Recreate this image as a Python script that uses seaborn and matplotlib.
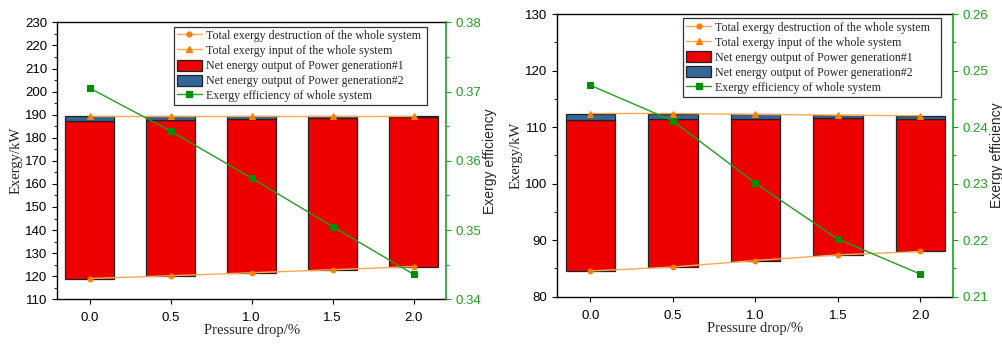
import matplotlib
matplotlib.use("Agg")
import matplotlib.pyplot as plt
import numpy as np
import pandas as pd
import seaborn as sns
from matplotlib.lines import Line2D
from matplotlib.patches import Patch
from matplotlib.ticker import MultipleLocator

# pressure drop (%)
pressure_drop = [0.0, 0.5, 1.0, 1.5, 2.0]

# left case
left_destruction = [119.0, 120.2, 121.5, 122.8, 124.2]
left_pg1_top = [187.3, 187.7, 188.3, 188.6, 189.0]
left_input = [189.3, 189.3, 189.3, 189.3, 189.3]
left_efficiency = [0.3705, 0.3643, 0.3575, 0.3505, 0.3436]

# right case
right_destruction = [84.55, 85.25, 86.4, 87.4, 88.0]
right_pg1_top = [111.2, 111.4, 111.5, 111.6, 111.5]
right_input = [112.4, 112.4, 112.25, 112.1, 112.0]
right_efficiency = [0.2474, 0.2411, 0.2301, 0.2202, 0.2140]

labels = [
    "Total exergy destruction of the whole system",
    "Total exergy input of the whole system",
    "Net energy output of Power generation#1",
    "Net energy output of Power generation#2",
    "Exergy efficiency of whole system",
]

RED = "#ee0000"
BLUE = "#336699"
ORANGE = "#ff8000"
ORANGE_LINE = "#ffa850"
GREEN = "#008f00"
GREEN_LINE = "#1f9f1f"

SERIF = "Liberation Serif"
SANS = "Liberation Sans"

sns.set_style("ticks")
plt.rcParams["font.family"] = [SANS, "DejaVu Sans"]
plt.rcParams["xtick.direction"] = "out"
plt.rcParams["ytick.direction"] = "out"


def draw_panel(fig, rect, destruction, pg1_top, total_input, efficiency,
               ylim, ymajor, eff_lim, eff_major, legend_rect):
    ax = fig.add_axes(rect)
    df = pd.DataFrame({
        "drop": pressure_drop,
        "destruction": destruction,
        "pg1": np.array(pg1_top) - np.array(destruction),
        "pg2": np.array(total_input) - np.array(pg1_top),
        "pg1_top": pg1_top,
        "input": total_input,
        "eff": efficiency,
    })

    sns.barplot(data=df, x="drop", y="pg1", native_scale=True, width=0.6,
                bottom=df["destruction"], color=RED, saturation=1,
                edgecolor="#222222", linewidth=0.9, errorbar=None, ax=ax)
    sns.barplot(data=df, x="drop", y="pg2", native_scale=True, width=0.6,
                bottom=df["pg1_top"], color=BLUE, saturation=1,
                edgecolor="#222222", linewidth=0.9, errorbar=None, ax=ax)

    sns.lineplot(data=df, x="drop", y="destruction", color=ORANGE_LINE,
                 lw=1.0, marker="o", ms=3.5, mfc=ORANGE, mec=ORANGE,
                 ax=ax)
    sns.lineplot(data=df, x="drop", y="input", color=ORANGE_LINE,
                 lw=1.0, marker="^", ms=4, mfc=ORANGE, mec=ORANGE, ax=ax)

    ax.set_xlim(-0.2, 2.2)
    ax.set_ylim(*ylim)
    ax.set_xticks(pressure_drop)
    ax.set_xticklabels([f"{v:.1f}" for v in pressure_drop])
    ax.yaxis.set_major_locator(MultipleLocator(ymajor))
    ax.yaxis.set_minor_locator(MultipleLocator(ymajor / 2))
    ax.tick_params(axis="both", labelsize=9.5, length=3.5, width=0.8,
                   colors="black")
    ax.tick_params(axis="x", pad=6)
    ax.tick_params(axis="y", which="minor", length=2, width=0.8)
    ax.set_xlabel("Pressure drop/%", family=SERIF, fontsize=10.5,
                  labelpad=0)
    ax.set_ylabel("Exergy/kW", family=SERIF, fontsize=10.5, labelpad=2)
    for sp in ax.spines.values():
        sp.set_linewidth(1.0)
        sp.set_color("black")
    ax.spines["right"].set_visible(False)

    ax2 = ax.twinx()
    sns.lineplot(data=df, x="drop", y="eff", color=GREEN_LINE, lw=1.0,
                 marker="s", ms=5, mfc=GREEN, mec=GREEN, ax=ax2)
    ax2.set_ylim(*eff_lim)
    ax2.yaxis.set_major_locator(MultipleLocator(eff_major))
    ax2.yaxis.set_minor_locator(MultipleLocator(eff_major / 2))
    ax2.tick_params(axis="y", labelsize=9.5, length=3.5, width=0.8,
                    colors=GREEN_LINE, labelcolor=GREEN_LINE)
    ax2.tick_params(axis="y", which="minor", length=2, width=0.8,
                    colors=GREEN_LINE)
    ax2.set_ylabel("Exergy efficiency", fontsize=10, labelpad=1)
    ax2.spines["right"].set_color(GREEN_LINE)
    ax2.spines["right"].set_linewidth(1.2)
    for side in ("left", "top", "bottom"):
        ax2.spines[side].set_visible(False)

    handles = [
        Line2D([], [], color=ORANGE_LINE, lw=1.0, marker="o", ms=3.5,
               mfc=ORANGE, mec=ORANGE),
        Line2D([], [], color=ORANGE_LINE, lw=1.0, marker="^", ms=4,
               mfc=ORANGE, mec=ORANGE),
        Patch(facecolor=RED, edgecolor="#222222", linewidth=0.9),
        Patch(facecolor=BLUE, edgecolor="#222222", linewidth=0.9),
        Line2D([], [], color=GREEN_LINE, lw=1.0, marker="s", ms=5,
               mfc=GREEN, mec=GREEN),
    ]
    leg = ax2.legend(handles, labels, loc="upper left",
                     bbox_to_anchor=legend_rect, mode="expand",
                     prop={"family": SERIF, "size": 8.6},
                     frameon=True, fancybox=False, framealpha=1,
                     edgecolor="#333333", borderpad=0.25, labelspacing=0.2,
                     handlelength=2.1, handleheight=1.05, handletextpad=0.35,
                     borderaxespad=0)
    leg.get_frame().set_linewidth(0.9)
    return ax, ax2


fig = plt.figure(figsize=(10.03, 3.44), dpi=100)

draw_panel(fig, [0.0571, 0.130, 0.3876, 0.805],
           left_destruction, left_pg1_top, left_input, left_efficiency,
           (110, 230), 10, (0.34, 0.38), 0.01,
           (0.30, 0.985, 0.65, 0.0))
draw_panel(fig, [0.5556, 0.1375, 0.3948, 0.8218],
           right_destruction, right_pg1_top, right_input, right_efficiency,
           (80, 130), 10, (0.21, 0.26), 0.01,
           (0.318, 0.985, 0.65, 0.0))

fig.savefig("out.png", dpi=100)
